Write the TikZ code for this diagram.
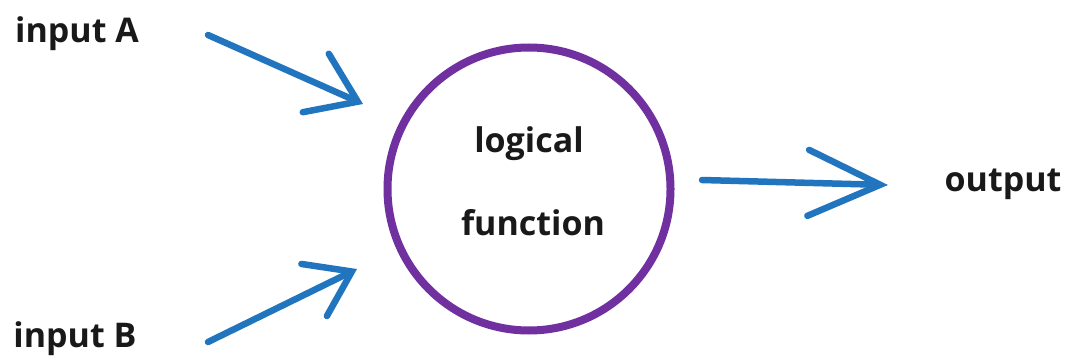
\documentclass[tikz,border=0pt]{standalone}
\usepackage{fontspec}
\setmainfont{Open Sans}
\usetikzlibrary{arrows.meta}
\definecolor{arrblue}{RGB}{33,117,190}
\definecolor{ringpurple}{RGB}{112,48,160}
\begin{document}
\begin{tikzpicture}[x=1pt,y=-1pt,
  lbl/.style={font=\fontsize{34}{38}\selectfont\bfseries, text=black!90, inner sep=0pt, anchor=base},
  arr/.style={arrblue, line width=6.5pt, line cap=round},
  ring/.style={circle, draw=ringpurple, line width=8pt, minimum size=283pt, inner sep=0pt}]
\useasboundingbox (0,0) rectangle (1070,358);
\fill[white] (0,0) rectangle (1070,358);
\node[lbl] (inA) at (77,43) {input A};
\node[lbl] (inB) at (75,347) {input B};
\node[lbl] (out) at (1003,191) {output};
\node[ring] (fn) at (529,189) {};
\node[lbl] (fnA) at (529,153) {logical};
\node[lbl] (fnB) at (533,235) {function};
\coordinate (aS) at (208,35);
\coordinate (aE) at (363,104);
\coordinate (bS) at (208,342);
\coordinate (bE) at (357,269);
\coordinate (oS) at (702,180);
\coordinate (oE) at (888,185);
\draw[arr, -{Straight Barb[length=46pt, width=64pt, line cap=round]}] (aS) -- (aE);
\draw[arr, -{Straight Barb[length=42pt, width=58pt, line cap=round]}] (bS) -- (bE);
\draw[arr, -{Straight Barb[length=72pt, width=66pt, line cap=round]}] (oS) -- (oE);
\end{tikzpicture}
\end{document}
